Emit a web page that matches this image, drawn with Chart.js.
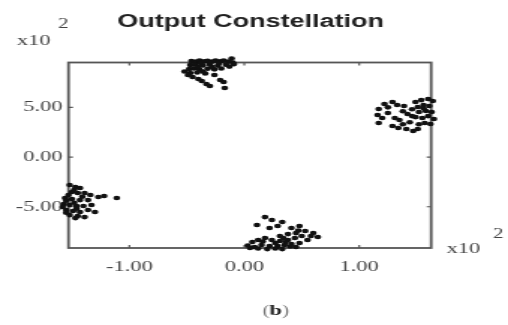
<!DOCTYPE html>
<html><head><meta charset="utf-8">
<script src="https://cdn.jsdelivr.net/npm/chart.js@4.4.1/dist/chart.umd.min.js"></script>
<style>
html,body{margin:0;padding:0;background:#fff;overflow:hidden;width:508px;height:325px}
#wrap{width:339px;height:325px;transform:scaleX(1.4985);transform-origin:0 0}
canvas{display:block}
</style></head><body>
<div id="wrap"><canvas id="c" width="339" height="325"></canvas></div>
<script>
const titleText = "Output Constellation";
const xTickValues = [-1, 0, 1];
const yTickValues = [-5, 0, 5];
const xRange = [-1.53, 1.626];
const yRange = [-9.15, 9.51];
const exponentLabel = ["x10", "2"];
const captionLabel = ["(", "b", ")"];

const topCluster = [
  [-0.43,9.96],[-0.34,9.96],[-0.26,9.96],[-0.17,9.96],[-0.11,9.9],
  [-0.46,9.66],[-0.42,9.6],[-0.39,9.7],[-0.35,9.62],[-0.32,9.68],[-0.28,9.6],[-0.25,9.7],[-0.21,9.64],[-0.18,9.7],[-0.14,9.6],[-0.10,9.5],
  [-0.47,9.26],[-0.43,9.3],[-0.36,9.22],[-0.30,9.3],[-0.23,9.2],[-0.16,9.28],[-0.09,9.35],
  [-0.48,8.85],[-0.44,8.9],[-0.39,8.8],[-0.32,8.88],[-0.26,8.82],[-0.20,8.9],
  [-0.47,8.45],[-0.41,8.5],[-0.34,8.4],
  [-0.49,8.25],[-0.45,8.05],[-0.40,7.85],[-0.37,7.65],[-0.33,7.34],[-0.30,7.14],[-0.26,8.25],[-0.21,7.75],[-0.18,7.55],[-0.17,6.94],
  [-0.38,9.45],[-0.30,9.45],[-0.22,9.45],[-0.13,9.1],[-0.40,9.05],[-0.28,9.05],[-0.36,8.6],[-0.52,8.6]
];
const rightCluster = [
  [1.29,5.53],[1.22,5.33],[1.33,5.23],[1.39,5.13],[1.17,4.83],[1.16,4.23],[1.20,3.92],[1.17,3.42],
  [1.25,4.43],[1.31,3.92],[1.35,3.72],[1.42,4.33],[1.46,4.12],[1.29,3.12],[1.34,2.92],[1.41,2.82],
  [1.47,2.62],[1.51,2.82],
  [1.49,5.53],[1.54,5.73],[1.60,5.84],[1.64,5.63],[1.51,5.03],[1.56,5.23],[1.61,5.13],[1.52,4.53],
  [1.58,4.63],[1.63,4.53],[1.49,4.02],[1.55,3.92],[1.60,4.12],[1.65,3.82],[1.57,3.42],[1.62,3.32],
  [1.25,5.0],[1.38,4.6],[1.44,3.5],[1.38,3.3],[1.52,3.3],[1.46,4.8],[1.56,4.9]
];
const leftCluster = [
  [-1.52,-2.82],[-1.47,-3.02],[-1.43,-3.12],[-1.50,-3.52],[-1.45,-3.62],[-1.39,-3.62],[-1.53,-3.82],[-1.34,-3.82],
  [-1.56,-4.12],[-1.50,-4.23],[-1.43,-4.33],[-1.36,-4.33],[-1.59,-4.53],[-1.57,-4.73],[-1.52,-4.83],[-1.46,-4.93],
  [-1.40,-4.93],[-1.33,-4.83],[-1.58,-5.03],[-1.55,-5.33],[-1.49,-5.43],[-1.43,-5.53],[-1.36,-5.33],[-1.52,-5.84],
  [-1.45,-5.94],[-1.47,-6.14],[-1.39,-6.04],[-1.30,-5.53],
  [-1.27,-4.02],[-1.22,-3.92],[-1.11,-4.12],
  [-1.55,-4.4],[-1.48,-4.6],[-1.55,-5.6],[-1.46,-5.2],[-1.41,-4.0],[-1.48,-3.3]
];
const bottomCluster = [
  [0.18,-6.04],[0.24,-6.34],[0.33,-6.54],[0.11,-6.84],[0.22,-7.14],[0.29,-6.94],[0.41,-7.14],[0.48,-6.94],
  [0.53,-7.44],[0.60,-7.65],[0.64,-8.05],[0.45,-7.65],[0.38,-7.75],[0.31,-7.95],[0.07,-8.55],[0.12,-8.35],
  [0.18,-8.15],[0.24,-8.35],[0.31,-8.45],[0.38,-8.35],[0.44,-8.15],[0.50,-7.95],[0.55,-8.35],[0.09,-9.05],
  [0.15,-8.85],[0.22,-8.95],[0.29,-8.95],[0.35,-8.85],[0.41,-8.75],[0.48,-8.65],[0.05,-9.15],[0.20,-9.26],
  [0.33,-9.26],[0.45,-9.05],[0.27,-8.65],[0.36,-8.55],
  [0.12,-9.2],[0.27,-9.2],[0.40,-9.0],[0.16,-8.5],[0.34,-8.15],[0.47,-7.4],[0.58,-7.95],[0.03,-8.9]
];

const clusters = [topCluster, rightCluster, leftCluster, bottomCluster];
const tickFont = {family: '"Liberation Serif","Times New Roman",serif', size: 15};
const tickColor = '#444';

const framePlugin = {
  id: 'frame',
  beforeDatasetsDraw(chart) {
    const {ctx, chartArea: a, scales: {x, y}} = chart;
    ctx.save();
    ctx.strokeStyle = '#555';
    ctx.lineWidth = 1.8;
    ctx.strokeRect(a.left, a.top, a.right - a.left, a.bottom - a.top);
    ctx.lineWidth = 1.2;
    ctx.beginPath();
    xTickValues.forEach(v => {
      const px = x.getPixelForValue(v);
      ctx.moveTo(px, a.bottom); ctx.lineTo(px, a.bottom - 3);
      ctx.moveTo(px, a.top); ctx.lineTo(px, a.top + 3);
    });
    yTickValues.forEach(v => {
      const py = y.getPixelForValue(v);
      ctx.moveTo(a.left, py); ctx.lineTo(a.left + 3, py);
      ctx.moveTo(a.right, py); ctx.lineTo(a.right - 3, py);
    });
    ctx.stroke();
    ctx.restore();
  },
  afterDraw(chart) {
    const {ctx, chartArea: a} = chart;
    ctx.save();
    ctx.fillStyle = '#222';
    ctx.font = 'bold 18px "Liberation Sans", Arial, sans-serif';
    ctx.textAlign = 'center';
    ctx.textBaseline = 'alphabetic';
    ctx.fillText(titleText, (a.left + a.right) / 2 + 0.5, 27);
    ctx.textAlign = 'left';
    ctx.fillStyle = tickColor;
    ctx.font = '15px "Liberation Serif", serif';
    ctx.fillText(exponentLabel[0], 11.3, 45);
    ctx.fillText(exponentLabel[0], 298, 253);
    ctx.font = '14px "Liberation Serif", serif';
    ctx.fillText(exponentLabel[1], 38.7, 28);
    ctx.fillText(exponentLabel[1], 329, 238);
    ctx.font = '14px "Liberation Serif", serif';
    const w0 = ctx.measureText(captionLabel[0]).width;
    const w2 = ctx.measureText(captionLabel[2]).width;
    ctx.font = 'bold 15px "Liberation Serif", serif';
    const w1 = ctx.measureText(captionLabel[1]).width;
    let cx = 184 - (w0 + w1 + w2) / 2;
    ctx.fillStyle = '#777';
    ctx.font = '14px "Liberation Serif", serif';
    ctx.fillText(captionLabel[0], cx, 315);
    ctx.fillStyle = '#222';
    ctx.font = 'bold 15px "Liberation Serif", serif';
    ctx.fillText(captionLabel[1], cx + w0, 315);
    ctx.fillStyle = '#777';
    ctx.font = '14px "Liberation Serif", serif';
    ctx.fillText(captionLabel[2], cx + w0 + w1, 315);
    ctx.restore();
  }
};

new Chart(document.getElementById('c'), {
  type: 'scatter',
  data: {
    datasets: clusters.map(c => ({
      data: c.map(p => ({x: p[0], y: p[1]})),
      backgroundColor: '#111',
      borderColor: '#111',
      borderWidth: 0,
      pointRadius: 2.3,
      clip: false
    }))
  },
  options: {
    responsive: false,
    animation: false,
    layout: {padding: {top: 62.5, right: 51.3, bottom: 0, left: 0}},
    plugins: {legend: {display: false}, tooltip: {enabled: false}, title: {display: false}},
    scales: {
      x: {
        type: 'linear', min: xRange[0], max: xRange[1],
        afterBuildTicks: s => { s.ticks = xTickValues.map(v => ({value: v})); },
        afterFit: s => { s.height = 77; },
        grid: {display: false, drawTicks: false},
        border: {display: false},
        ticks: {font: tickFont, color: tickColor, padding: 10, maxRotation: 0, autoSkip: false,
                callback: v => v.toFixed(2)}
      },
      y: {
        type: 'linear', min: yRange[0], max: yRange[1],
        afterBuildTicks: s => { s.ticks = yTickValues.map(v => ({value: v})); },
        afterFit: s => { s.width = 45.7; },
        grid: {display: false, drawTicks: false},
        border: {display: false},
        ticks: {font: tickFont, color: tickColor, padding: 4, autoSkip: false,
                callback: v => v.toFixed(2)}
      }
    }
  },
  plugins: [framePlugin]
});
</script>
</body></html>
